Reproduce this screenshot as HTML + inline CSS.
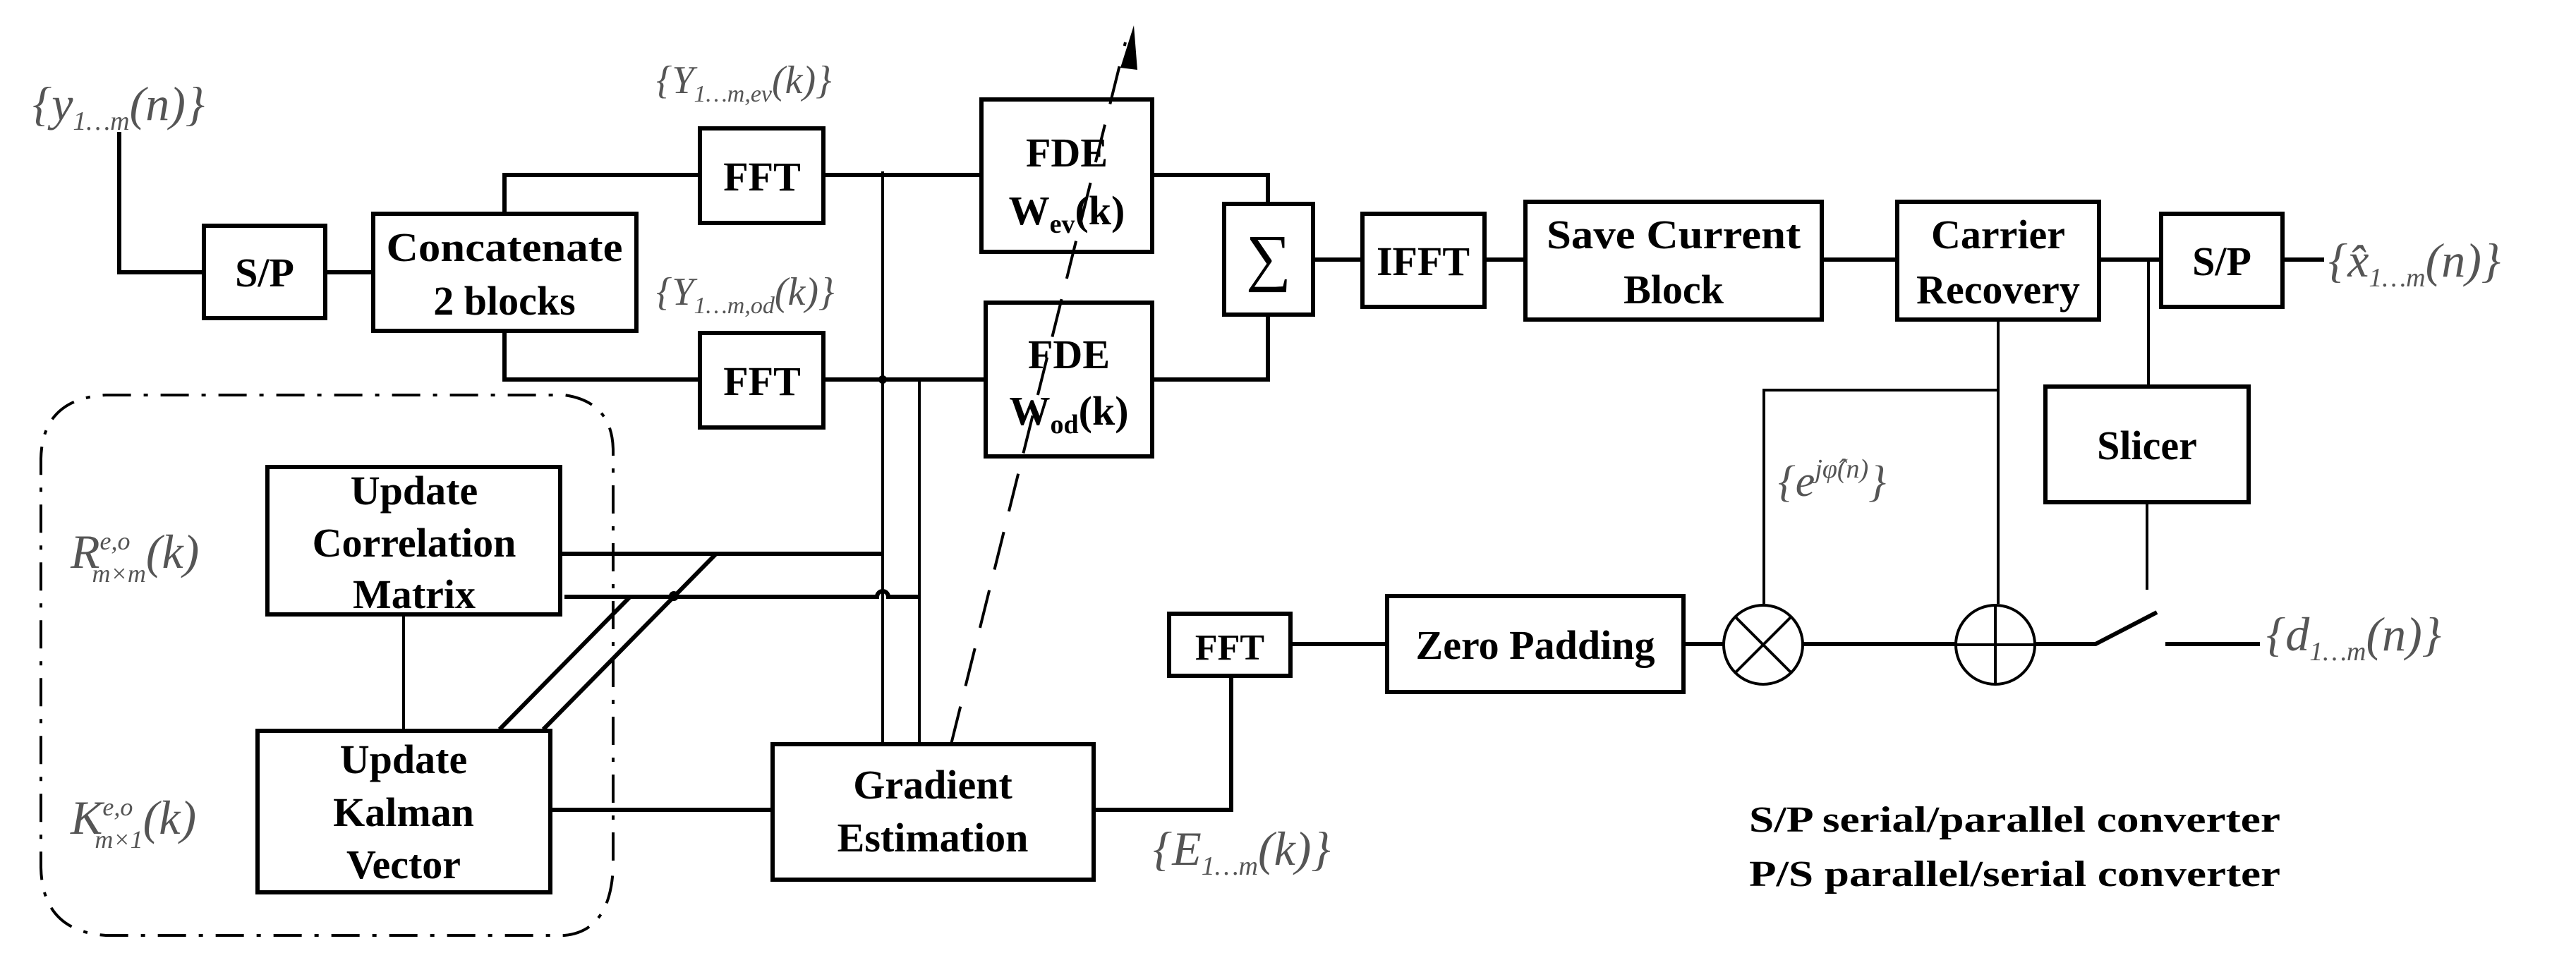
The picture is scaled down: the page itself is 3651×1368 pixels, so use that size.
<!DOCTYPE html>
<html><head><meta charset="utf-8"><style>
html,body{margin:0;padding:0;background:#fff;}
svg{display:block;}
.b{font-family:"Liberation Serif",serif;font-weight:bold;fill:#000;text-anchor:middle;}
.m{font-family:"Liberation Serif",serif;font-style:italic;fill:#555;}
</style></head><body>
<svg width="3651" height="1368" viewBox="0 0 3651 1368" xmlns="http://www.w3.org/2000/svg">
<g fill="none" stroke="#000" stroke-width="6">
<rect x="289" y="320" width="172" height="131"/>
<rect x="529" y="303" width="373" height="166"/>
<rect x="992" y="182" width="175" height="134"/>
<rect x="992" y="472" width="175" height="134"/>
<rect x="1391" y="141" width="242" height="216"/>
<rect x="1397" y="429" width="236" height="218"/>
<rect x="1735" y="289" width="126" height="157"/>
<rect x="1931" y="303" width="173" height="132"/>
<rect x="2162" y="286" width="420" height="167"/>
<rect x="2689" y="286" width="286" height="167"/>
<rect x="3063" y="303" width="172" height="132"/>
<rect x="2899" y="548" width="288" height="164"/>
<rect x="379" y="662" width="415" height="209"/>
<rect x="365" y="1036" width="415" height="229"/>
<rect x="1095" y="1055" width="455" height="192"/>
<rect x="1657" y="870" width="172" height="88"/>
<rect x="1966" y="845" width="420" height="136"/>
<polyline points="169,187 169,386 289,386"/>
<line x1="461" y1="386" x2="529" y2="386"/>
<polyline points="715,303 715,248 992,248"/>
<polyline points="715,469 715,538 992,538"/>
<line x1="1167" y1="248" x2="1391" y2="248"/>
<line x1="1167" y1="538" x2="1397" y2="538"/>
<polyline points="1633,248 1797,248 1797,289"/>
<polyline points="1633,538 1797,538 1797,446"/>
<line x1="1861" y1="368" x2="1931" y2="368"/>
<line x1="2104" y1="368" x2="2162" y2="368"/>
<line x1="2582" y1="368" x2="2689" y2="368"/>
<line x1="2975" y1="368" x2="3063" y2="368"/>
<line x1="3235" y1="368" x2="3294" y2="368"/>
<line x1="794" y1="785" x2="1251" y2="785"/>
<path d="M800,846 H1243 A8,8 0 0 1 1259,846 H1303"/>
<line x1="780" y1="1148" x2="1095" y2="1148"/>
<polyline points="1550,1148 1745,1148 1745,958"/>
<line x1="1829" y1="913" x2="1966" y2="913"/>
<line x1="2386" y1="913" x2="2442" y2="913"/>
<line x1="2556" y1="913" x2="2771" y2="913"/>
<polyline points="2885,913 2970,913 3057,868"/>
<line x1="3069" y1="913" x2="3203" y2="913"/>
<line x1="893" y1="846" x2="708" y2="1034"/>
<line x1="1015" y1="785" x2="770" y2="1034"/>
</g>
<g fill="none" stroke="#000" stroke-width="4">
<line x1="1251" y1="243" x2="1251" y2="1055"/>
<line x1="1303" y1="538" x2="1303" y2="1055"/>
<line x1="572" y1="871" x2="572" y2="1036"/>
<polyline points="2500,856 2500,553 2832,553"/>
<line x1="2832" y1="453" x2="2832" y2="856"/>
<line x1="3045" y1="368" x2="3045" y2="548"/>
<line x1="3043" y1="712" x2="3043" y2="836"/>
<circle cx="2499" cy="914" r="56"/>
<line x1="2459" y1="874" x2="2539" y2="954"/>
<line x1="2539" y1="874" x2="2459" y2="954"/>
<circle cx="2828" cy="914" r="56"/>
<line x1="2828" y1="858" x2="2828" y2="970"/>
<line x1="2772" y1="914" x2="2884" y2="914"/>
<line x1="1348" y1="1055" x2="1595" y2="60" stroke-dasharray="55,30"/>
<path d="M869,1220 V640 Q869,570 800,560 H150 Q60,565 58,650 V1230 Q60,1320 150,1326 H800 Q865,1320 869,1230" stroke-dasharray="40,18,6,18"/>
</g>
<circle cx="1251" cy="538" r="6"/>
<circle cx="955" cy="845" r="7"/>
<polygon points="1607,36 1588,96 1612,99"/>
<g class="b" font-size="58">
<text x="375" y="406">S/P</text>
<text x="715" y="370" textLength="335" lengthAdjust="spacingAndGlyphs">Concatenate</text>
<text x="715" y="446">2 blocks</text>
<text x="1080" y="270">FFT</text>
<text x="1080" y="560">FFT</text>
<text x="1512" y="236">FDE</text>
<text x="1512" y="318">W<tspan font-size="38" dy="12">ev</tspan><tspan dy="-12">(k)</tspan></text>
<text x="1515" y="522">FDE</text>
<text x="1515" y="602">W<tspan font-size="38" dy="12">od</tspan><tspan dy="-12">(k)</tspan></text>
<text x="1798" y="395" font-size="90" font-weight="normal">∑</text>
<text x="2017" y="390">IFFT</text>
<text x="2372" y="352" textLength="360" lengthAdjust="spacingAndGlyphs">Save Current</text>
<text x="2372" y="430">Block</text>
<text x="2832" y="352">Carrier</text>
<text x="2832" y="430">Recovery</text>
<text x="3149" y="390">S/P</text>
<text x="3043" y="651">Slicer</text>
<text x="587" y="715">Update</text>
<text x="587" y="789">Correlation</text>
<text x="587" y="862">Matrix</text>
<text x="572" y="1096">Update</text>
<text x="572" y="1171">Kalman</text>
<text x="572" y="1245">Vector</text>
<text x="1322" y="1132">Gradient</text>
<text x="1322" y="1207">Estimation</text>
<text x="1743" y="935" font-size="52">FFT</text>
<text x="2176" y="934">Zero Padding</text>
</g>
<g class="b" font-size="52" style="text-anchor:start">
<text x="2479" y="1179" textLength="753" lengthAdjust="spacingAndGlyphs">S/P serial/parallel converter</text>
<text x="2479" y="1256" textLength="753" lengthAdjust="spacingAndGlyphs">P/S parallel/serial converter</text>
</g>
<g class="m" font-size="68">
<text x="46" y="170">{y<tspan font-size="38" dy="14">1…m</tspan><tspan dy="-14">(n)}</tspan></text>
<text x="930" y="132" font-size="56">{Y<tspan font-size="34" dy="12">1…m,ev</tspan><tspan dy="-12">(k)}</tspan></text>
<text x="930" y="432" font-size="56">{Y<tspan font-size="34" dy="12">1…m,od</tspan><tspan dy="-12">(k)}</tspan></text>
<text x="3300" y="392">{x̂<tspan font-size="38" dy="14">1…m</tspan><tspan dy="-14">(n)}</tspan></text>
<text x="2520" y="703" font-size="62">{e<tspan font-size="38" dy="-26">jφ̂(n)</tspan><tspan dy="26">}</tspan></text>
<text x="100" y="805">R<tspan font-size="36" dy="-26">e,o</tspan><tspan font-size="36" dx="-54" dy="46">m×m</tspan><tspan dy="-20">(k)</tspan></text>
<text x="100" y="1182">K<tspan font-size="36" dy="-26">e,o</tspan><tspan font-size="36" dx="-54" dy="46">m×1</tspan><tspan dy="-20">(k)</tspan></text>
<text x="1634" y="1226">{E<tspan font-size="38" dy="14">1…m</tspan><tspan dy="-14">(k)}</tspan></text>
<text x="3212" y="922">{d<tspan font-size="38" dy="14">1…m</tspan><tspan dy="-14">(n)}</tspan></text>
</g>
</svg>
</body></html>
